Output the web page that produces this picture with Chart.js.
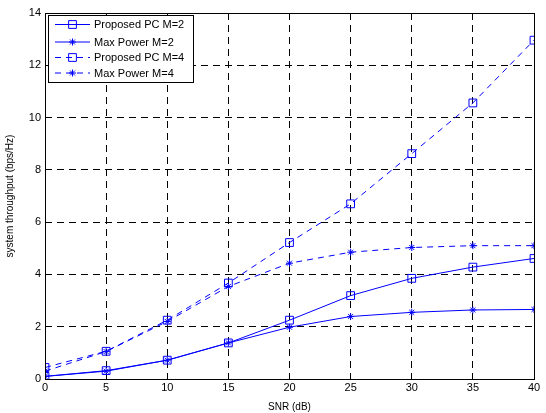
<!DOCTYPE html>
<html>
<head>
<meta charset="utf-8">
<script src="https://cdn.jsdelivr.net/npm/chart.js@4.4.1/dist/chart.umd.min.js"></script>
<style>
  html, body { margin: 0; padding: 0; background: #fff; }
  #wrap { width: 546px; height: 413px; }
</style>
</head>
<body>
<div id="wrap"><canvas id="thrChart" width="546" height="413"></canvas></div>
<script>
// SNR の値
const snr = [0, 5, 10, 15, 20, 25, 30, 35, 40];
const xTicks = [0, 5, 10, 15, 20, 25, 30, 35, 40];
const yTicks = [0, 2, 4, 6, 8, 10, 12, 14];

const proposedM2 = [0.10, 0.32, 0.72, 1.38, 2.25, 3.19, 3.85, 4.28, 4.61];
const maxPowerM2 = [0.10, 0.30, 0.72, 1.38, 1.98, 2.39, 2.55, 2.64, 2.66];
const proposedM4 = [0.44, 1.06, 2.25, 3.67, 5.22, 6.70, 8.62, 10.56, 12.96];
const maxPowerM4 = [0.30, 1.05, 2.20, 3.54, 4.43, 4.85, 5.03, 5.10, 5.10];

const BLUE = '#0000ff';
const FONT = 'Liberation Sans, Arial, sans-serif';

function toXY(arr) {
  return arr.map((v, i) => ({ x: snr[i], y: v }));
}

function series(label, values, dashed, marker) {
  return {
    label: label,
    data: toXY(values),
    borderColor: BLUE,
    backgroundColor: 'rgba(0,0,0,0)',
    borderWidth: 1,
    borderDash: dashed ? [6, 5] : [],
    pointStyle: marker,
    pointRadius: marker === 'rect' ? 5.5 : 3.5,
    pointBorderColor: BLUE,
    pointBackgroundColor: 'rgba(0,0,0,0)',
    pointBorderWidth: 1,
    fill: false,
    tension: 0
  };
}

// MATLAB風の凡例と枠線
const matlabBox = {
  id: 'matlabBox',
  afterDraw(chart) {
    const ctx = chart.ctx;
    const a = chart.chartArea;
    ctx.save();
    ctx.strokeStyle = '#000';
    ctx.lineWidth = 1;
    ctx.setLineDash([]);
    ctx.strokeRect(Math.round(a.left) + 0.5, Math.round(a.top) + 0.5,
      Math.round(a.right - a.left), Math.round(a.bottom - a.top));

    // 凡例
    const bx = 48.5, by = 15.5, bw = 145, bh = 67;
    ctx.fillStyle = '#fff';
    ctx.fillRect(bx, by, bw, bh);
    ctx.strokeRect(bx, by, bw, bh);
    const rows = [24, 41.5, 57, 72.5];
    ctx.font = '11px ' + FONT;
    ctx.textBaseline = 'middle';
    chart.data.datasets.forEach((ds, i) => {
      const y = rows[i] + 0.5;
      ctx.strokeStyle = BLUE;
      ctx.setLineDash(ds.borderDash);
      ctx.beginPath();
      ctx.moveTo(55, y);
      ctx.lineTo(90, y);
      ctx.stroke();
      ctx.setLineDash([]);
      ctx.fillStyle = 'rgba(0,0,0,0)';
      ctx.strokeStyle = BLUE;
      Chart.helpers.drawPoint(ctx, {
        pointStyle: ds.pointStyle,
        radius: ds.pointRadius,
        rotation: 0,
        borderWidth: 1
      }, 72.5, y);
      ctx.fillStyle = '#000';
      ctx.fillText(ds.label, 94, y + 0.5);
    });
    ctx.restore();
  }
};

const ctx1 = document.getElementById('thrChart').getContext('2d');

new Chart(ctx1, {
  type: 'line',
  data: {
    datasets: [
      series('Proposed PC M=2', proposedM2, false, 'rect'),
      series('Max Power M=2', maxPowerM2, false, 'star'),
      series('Proposed PC M=4', proposedM4, true, 'rect'),
      series('Max Power M=4', maxPowerM4, true, 'star')
    ]
  },
  options: {
    responsive: false,
    animation: false,
    layout: { padding: { top: 13, right: 12, left: 4, bottom: 0 } },
    plugins: {
      legend: { display: false },
      tooltip: { enabled: false }
    },
    scales: {
      x: {
        type: 'linear',
        min: 0,
        max: 40,
        afterBuildTicks(scale) { scale.ticks = xTicks.map(v => ({ value: v })); },
        afterFit(scale) { scale.height = 34; },
        ticks: { color: '#000', font: { family: FONT, size: 11 }, padding: 2 },
        grid: { color: '#000', lineWidth: 1, drawTicks: false },
        border: { display: false, dash: [7, 5] },
        title: { display: true, text: 'SNR (dB)', color: '#000', font: { family: FONT, size: 10 }, padding: { top: 2, bottom: 0 } }
      },
      y: {
        min: 0,
        max: 14,
        afterBuildTicks(scale) { scale.ticks = yTicks.map(v => ({ value: v })); },
        afterFit(scale) { scale.width = 41; },
        ticks: { color: '#000', font: { family: FONT, size: 11 }, padding: 4 },
        grid: { color: '#000', lineWidth: 1, drawTicks: false },
        border: { display: false, dash: [7, 5] },
        title: { display: true, text: 'system throughput (bps/Hz)', color: '#000', font: { family: FONT, size: 10 }, padding: { top: 0, bottom: 4 } }
      }
    }
  },
  plugins: [matlabBox]
});
</script>
</body>
</html>
